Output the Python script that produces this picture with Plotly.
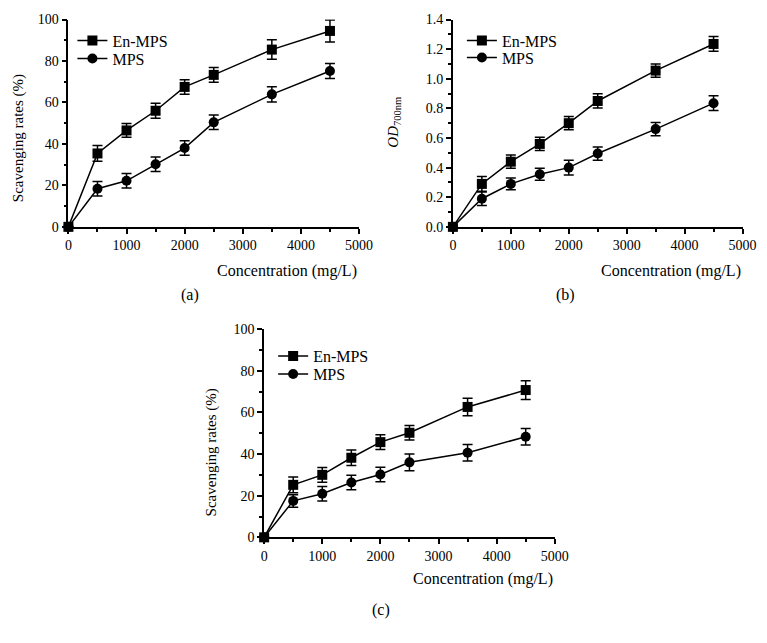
import plotly.graph_objects as go

conc = [0, 500, 1000, 1500, 2000, 2500, 3500, 4500]

# (a) scavenging rates
a_en = [0, 35.4, 46.5, 56.0, 67.5, 73.3, 85.5, 94.5]
a_en_err = [0, 3.8, 3.3, 3.6, 3.5, 3.5, 4.7, 5.3]
a_mps = [0, 18.4, 22.2, 30.2, 38.0, 50.4, 63.9, 75.2]
a_mps_err = [0, 3.5, 3.5, 3.5, 3.5, 3.5, 3.7, 3.6]

# (b) OD700nm
b_en = [0, 0.29, 0.44, 0.56, 0.70, 0.85, 1.055, 1.235]
b_en_err = [0, 0.05, 0.045, 0.045, 0.045, 0.048, 0.045, 0.05]
b_mps = [0, 0.19, 0.29, 0.355, 0.40, 0.495, 0.66, 0.835]
b_mps_err = [0, 0.045, 0.04, 0.04, 0.05, 0.045, 0.045, 0.05]

# (c) scavenging rates
c_en = [0, 25.2, 30.0, 38.2, 45.7, 50.2, 62.6, 70.7]
c_en_err = [0, 3.8, 3.5, 3.7, 3.5, 3.5, 4.2, 4.5]
c_mps = [0, 17.5, 20.9, 26.3, 30.2, 36.0, 40.6, 48.3]
c_mps_err = [0, 3.0, 3.5, 3.5, 3.5, 4.0, 4.0, 4.0]

x_ticks = [0, 1000, 2000, 3000, 4000, 5000]
labels = ["(a)", "(b)", "(c)"]
series_names = ["En-MPS", "MPS"]
x_title = "Concentration (mg/L)"
y_titles = ["Scavenging rates (%)", "<i>OD</i><sub>700nm</sub>", "Scavenging rates (%)"]

W, H = 767, 643
FONT = "Liberation Serif"

# effective drawing area observed in the renderer
OX, OY, EW, EH = 2.5, 7.5, 750.0, 627.0

def px(x):
    return (x - OX) / EW

def py(y):
    return 1 - (y - OY) / EH

fig = go.Figure()

panels = [
    dict(en=a_en, ene=a_en_err, mp=a_mps, mpe=a_mps_err, ax="", yr=[0, 100], dt=20, mdt=10,
         xd=[67, 358], yd=[227, 20], legs=["legend", "legend4"]),
    dict(en=b_en, ene=b_en_err, mp=b_mps, mpe=b_mps_err, ax="2", yr=[0, 1.4], dt=0.2, mdt=0.1,
         xd=[452, 742], yd=[227, 20], legs=["legend2", "legend5"]),
    dict(en=c_en, ene=c_en_err, mp=c_mps, mpe=c_mps_err, ax="3", yr=[0, 100], dt=20, mdt=10,
         xd=[263, 554], yd=[537, 329], legs=["legend3", "legend6"]),
]

for i, p in enumerate(panels):
    for k, (name, ys, es, sym) in enumerate([(series_names[0], p["en"], p["ene"], "square"),
                                             (series_names[1], p["mp"], p["mpe"], "circle")]):
        fig.add_trace(go.Scatter(
            x=conc, y=ys, name=name, mode="lines+markers",
            line=dict(color="black", width=1.5),
            marker=dict(symbol=sym, size=10, color="black"),
            error_y=dict(type="data", array=es, visible=True, color="black",
                         thickness=1.5, width=5),
            xaxis="x" + p["ax"], yaxis="y" + p["ax"], legend=p["legs"][k],
            cliponaxis=False,
        ))
    axis_common = dict(showline=True, linecolor="black", linewidth=1.5, ticks="outside",
                       ticklen=5, tickwidth=1.5, tickcolor="black", showgrid=False,
                       zeroline=False, tickfont=dict(family=FONT, size=14, color="black"))
    fig.layout["xaxis" + p["ax"]] = dict(
        domain=[px(p["xd"][0]), px(p["xd"][1])], range=[0, 5000],
        tickvals=x_ticks, anchor="y" + p["ax"],
        minor=dict(dtick=500, ticks="outside", ticklen=3, tickwidth=1.5, tickcolor="black"),
        **axis_common)
    fig.layout["yaxis" + p["ax"]] = dict(
        domain=[py(p["yd"][0]), py(p["yd"][1])], range=p["yr"],
        dtick=p["dt"], tick0=0, anchor="x" + p["ax"],
        tickformat=".1f" if i == 1 else "d",
        minor=dict(dtick=p["mdt"], ticks="outside", ticklen=3, tickwidth=1.5, tickcolor="black"),
        **axis_common)

# legend boxes: (left, top) in pixels
legend_pos = {
    "legend": (71, 24), "legend4": (71, 42),
    "legend2": (461, 24), "legend5": (461, 41),
    "legend3": (272, 339), "legend6": (272, 357),
}
leg_common = dict(font=dict(family=FONT, size=16, color="black"), bgcolor="rgba(0,0,0,0)",
                  xanchor="left", yanchor="top", tracegroupgap=0, itemwidth=30)
for name, (lx, ly) in legend_pos.items():
    fig.layout[name] = dict(x=px(lx), y=py(ly), **leg_common)

ann = []
# x titles
for xr, yy in [(358, 271), (742, 271), (554, 579)]:
    ann.append(dict(text=x_title, x=px(xr), y=py(yy), xref="paper", yref="paper",
                    xanchor="right", yanchor="middle", showarrow=False,
                    font=dict(family=FONT, size=16, color="black")))
# y titles
for t, (xx, yy) in zip(y_titles, [(17, 138), (393, 122), (210, 452)]):
    ann.append(dict(text=t, x=px(xx), y=py(yy), xref="paper", yref="paper",
                    xanchor="center", yanchor="middle", showarrow=False, textangle=-90,
                    font=dict(family=FONT, size=15, color="black")))
# panel labels
for t, (xx, yy) in zip(labels, [(189, 295), (565, 295), (380, 610)]):
    ann.append(dict(text=t, x=px(xx), y=py(yy), xref="paper", yref="paper",
                    xanchor="center", yanchor="middle", showarrow=False,
                    font=dict(family=FONT, size=16, color="black")))

fig.update_layout(
    width=W, height=H, margin=dict(l=0, r=0, t=0, b=0, pad=0),
    paper_bgcolor="white", plot_bgcolor="white",
    annotations=ann, showlegend=True,
    font=dict(family=FONT, color="black"),
)

fig.write_html("out.html", config={"displayModeBar": False},
               post_script="var d=document.getElementById('{plot_id}');d.style.position='fixed';"
                           "d.style.left='0px';d.style.top='0px';document.body.style.margin='0';")
